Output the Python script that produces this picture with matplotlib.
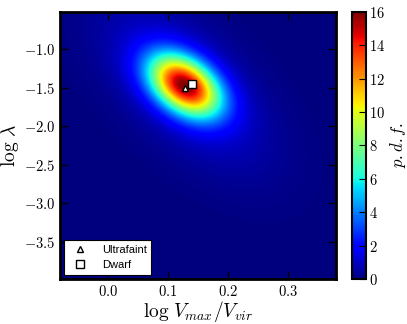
import matplotlib
matplotlib.use("Agg")
import matplotlib.pyplot as plt
import numpy as np

plt.rcParams['mathtext.fontset'] = 'cm'
plt.rcParams['axes.formatter.use_mathtext'] = True
plt.rcParams['font.family'] = 'serif'
plt.rcParams['font.serif'] = ['cmr10', 'DejaVu Serif']
plt.rcParams['axes.unicode_minus'] = True

# axis ranges
x_range = (-0.08, 0.38)
y_range = (-3.98, -0.52)

# density model: peak position, widths, tilt and heights
peak_center = (0.128, -1.47)
peak_sigma = (0.04, 0.27)
peak_rho = -0.4
peak_height = 14.5
halo_sigma = (0.09, 0.7)
halo_rho = -0.6
halo_height = 1.6

# points
ultrafaint = (0.128, -1.50)
dwarf = (0.140, -1.45)

xs = np.linspace(*x_range, 300)
ys = np.linspace(*y_range, 300)
X, Y = np.meshgrid(xs, ys)


def gauss(sx, sy, rho, h):
    u = (X - peak_center[0]) / sx
    v = (Y - peak_center[1]) / sy
    q = (u * u - 2 * rho * u * v + v * v) / (1 - rho ** 2)
    return h * np.exp(-0.5 * q)


Z = gauss(*peak_sigma, peak_rho, peak_height) + gauss(*halo_sigma, halo_rho, halo_height)

fig = plt.figure(figsize=(4.07, 3.24), dpi=100)
ax = fig.add_axes([0.147, 0.139, 0.678, 0.824])
cax = fig.add_axes([0.865, 0.139, 0.034, 0.824])

im = ax.imshow(Z, origin='lower', extent=[*x_range, *y_range], aspect='auto',
               cmap='jet', vmin=0, vmax=16, interpolation='bilinear')

ax.plot(*ultrafaint, '^', mfc='white', mec='black', ms=5, mew=1, ls='none', label='Ultrafaint')
ax.plot(*dwarf, 's', mfc='white', mec='black', ms=6, mew=1, ls='none', label='Dwarf')

ax.set_xlim(*x_range)
ax.set_ylim(*y_range)
ax.set_xticks([0.0, 0.1, 0.2, 0.3])
ax.set_yticks([-3.5, -3.0, -2.5, -2.0, -1.5, -1.0])
ax.tick_params(direction='in', top=True, right=True, length=6, width=1, labelsize=10.5)
for s in ax.spines.values():
    s.set_linewidth(2)

ax.set_xlabel(r'$\log\,V_{max}/V_{vir}$', fontsize=14, labelpad=0)
ax.set_ylabel(r'$\log\,\lambda$', fontsize=14, labelpad=2)

leg = ax.legend(loc='lower left', prop={'family': 'Liberation Sans', 'size': 8},
                fancybox=False, edgecolor='black', framealpha=1, numpoints=1,
                borderaxespad=0.4, handletextpad=1.0, borderpad=0.4)
leg.get_frame().set_linewidth(0.8)

cb = fig.colorbar(im, cax=cax, ticks=range(0, 17, 2))
cb.ax.tick_params(direction='in', length=5, labelsize=10.5, pad=2)
cb.outline.set_linewidth(1.5)
cb.set_label(r'$p.d.f.$', fontsize=12, labelpad=2)

fig.savefig('out.png', dpi=100)
